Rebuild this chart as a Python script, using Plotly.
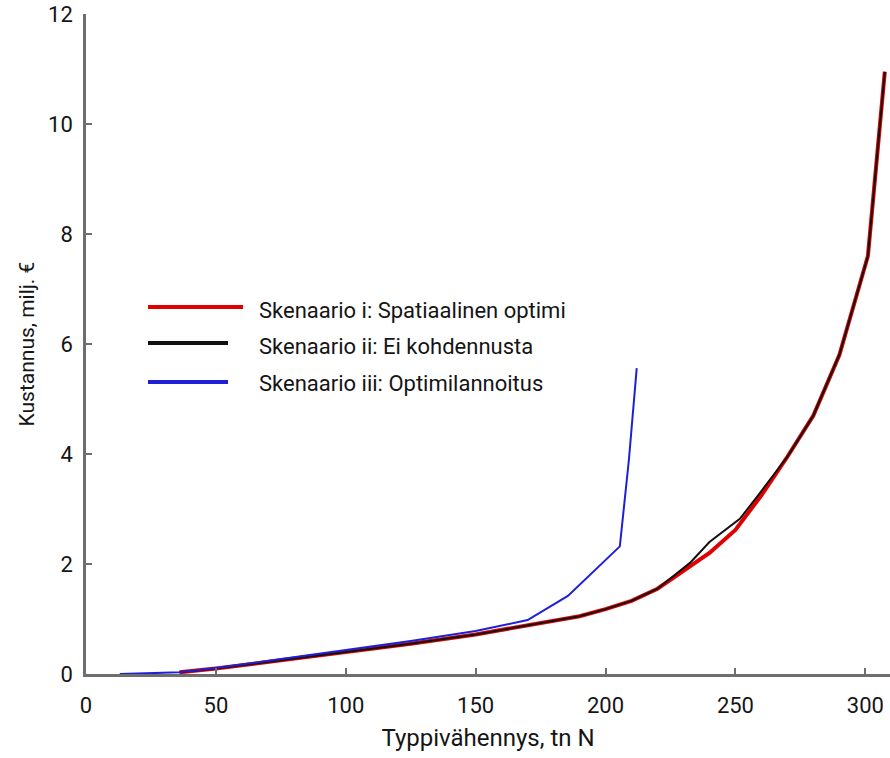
import plotly.graph_objects as go

# Scenario i: Spatiaalinen optimi
x_i = [36, 50, 75, 100, 125, 150, 170, 190, 200, 210, 220, 231, 240, 250, 260, 270, 280, 290, 301, 307.5]
y_i = [0.03, 0.1, 0.25, 0.4, 0.55, 0.72, 0.88, 1.05, 1.18, 1.33, 1.55, 1.9, 2.2, 2.62, 3.25, 3.95, 4.7, 5.8, 7.6, 10.95]

# Scenario ii: Ei kohdennusta
x_ii = [36, 50, 75, 100, 125, 150, 170, 190, 200, 210, 220, 232.5, 240, 251.7, 259.4, 270, 280, 290, 301, 307.5]
y_ii = [0.03, 0.1, 0.25, 0.4, 0.55, 0.72, 0.88, 1.05, 1.18, 1.33, 1.55, 2.02, 2.4, 2.82, 3.29, 3.95, 4.7, 5.8, 7.6, 10.95]

# Scenario iii: Optimilannoitus
x_iii = [13, 36, 50, 75, 100, 125, 150, 170, 185.5, 205.5, 209, 212]
y_iii = [0, 0.03, 0.11, 0.27, 0.43, 0.6, 0.78, 0.98, 1.42, 2.32, 3.9, 5.56]

names = ["Skenaario i: Spatiaalinen optimi", "Skenaario ii: Ei kohdennusta", "Skenaario iii: Optimilannoitus"]
colors = ["#e00000", "#111111", "#1f1fd8"]

x_ticks = [0, 50, 100, 150, 200, 250, 300]
y_ticks = [0, 2, 4, 6, 8, 10, 12]

FONT = "Roboto"
TXT = "#151515"

fig = go.Figure()
fig.add_trace(go.Scatter(x=x_i, y=y_i, mode="lines", name=names[0],
                         line=dict(color=colors[0], width=4), showlegend=False))
fig.add_trace(go.Scatter(x=x_ii, y=y_ii, mode="lines", name=names[1],
                         line=dict(color=colors[1], width=2), showlegend=False))
fig.add_trace(go.Scatter(x=x_iii, y=y_iii, mode="lines", name=names[2],
                         line=dict(color=colors[2], width=2), showlegend=False))

W, H = 890, 758
ml, mr, mt, mb = 86, 0, 14, 84
pw, ph = W - ml - mr, H - mt - mb

def px_to_paper(px, py):
    return (px - ml) / pw, 1 - (py - mt) / ph

# manual legend (line samples + text)
leg = [(148, 243, 307, 310), (148, 228, 343, 346), (148, 228, 382, 383)]
shapes = []
annotations = []
for (x0, x1, ly, ty), nm, c in zip(leg, names, colors):
    a0, b0 = px_to_paper(x0, ly)
    a1, _ = px_to_paper(x1, ly)
    shapes.append(dict(type="line", xref="paper", yref="paper", x0=a0, x1=a1, y0=b0, y1=b0,
                       line=dict(color=c, width=4)))
    tx, tyy = px_to_paper(257, ty)
    annotations.append(dict(text=nm, xref="paper", yref="paper", x=tx, y=tyy,
                            xanchor="left", yanchor="middle", showarrow=False,
                            font=dict(family=FONT, size=22, color=TXT)))

fig.update_layout(
    width=W, height=H,
    margin=dict(l=ml, r=mr, t=mt, b=mb),
    paper_bgcolor="white", plot_bgcolor="white",
    font=dict(family=FONT, color=TXT),
    shapes=shapes, annotations=annotations,
    showlegend=False,
)
fig.update_xaxes(range=[0, 309.5], tickvals=x_ticks, ticktext=[str(v) for v in x_ticks],
                 showgrid=False, zeroline=False, showline=True, linecolor="#6e6e6e", linewidth=2.5,
                 ticks="inside", ticklen=6, tickwidth=1.5, tickcolor="#6e6e6e",
                 ticklabelstandoff=10,
                 tickfont=dict(size=22, family=FONT, color=TXT),
                 title=dict(text="Typpivähennys, tn N", font=dict(size=24, family=FONT, color=TXT), standoff=13))
fig.update_yaxes(range=[0, 12], tickvals=y_ticks, ticktext=[str(v) for v in y_ticks],
                 showgrid=False, zeroline=False, showline=True, linecolor="#6e6e6e", linewidth=2.5,
                 ticks="inside", ticklen=6, tickwidth=1.5, tickcolor="#6e6e6e",
                 ticklabelstandoff=6,
                 tickfont=dict(size=22, family=FONT, color=TXT),
                 title=dict(text="Kustannus, milj. €", font=dict(size=21, family=FONT, color=TXT), standoff=8))

fig.write_html("out.html")
